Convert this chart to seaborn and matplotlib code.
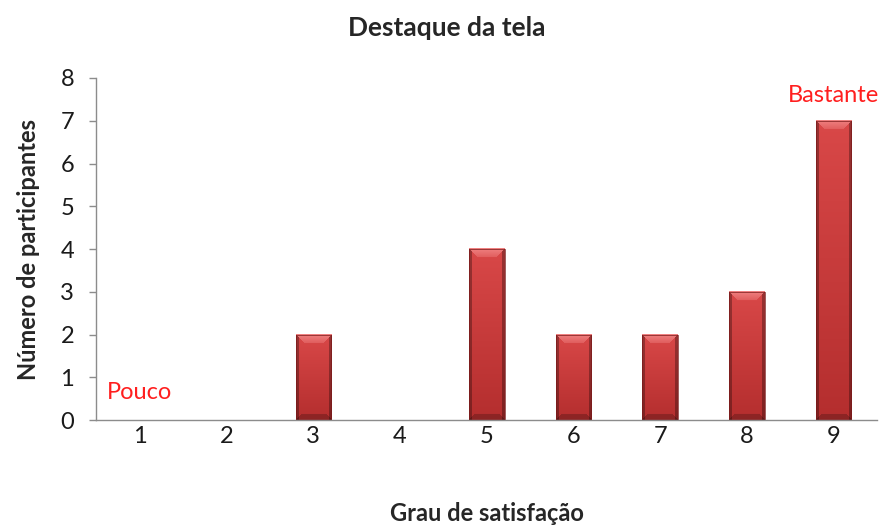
import numpy as np
import pandas as pd
import matplotlib
matplotlib.use("Agg")
import matplotlib.pyplot as plt
import seaborn as sns
from matplotlib.colors import to_rgb

# Survey responses: number of participants per satisfaction level
grau = ["1", "2", "3", "4", "5", "6", "7", "8", "9"]
participantes = [0, 0, 2, 0, 4, 2, 2, 3, 7]
titulo = "Destaque da tela"
rotulo_x = "Grau de satisfação"
rotulo_y = "Número de participantes"
anotacao_baixo = "Pouco"
anotacao_alto = "Bastante"

sns.set_theme(style="white")
plt.rcParams["font.family"] = ["Lato", "DejaVu Sans"]

df = pd.DataFrame({"grau": grau, "participantes": participantes})

fig = plt.figure(figsize=(8.85, 5.27), dpi=100)
ax = fig.add_axes([0.109, 0.203, 0.882, 0.649])

sns.barplot(data=df, x="grau", y="participantes", color="#c83232",
            width=0.41, ax=ax, saturation=1)

ax.set_xlim(-0.5, len(grau) - 0.5)
ax.set_ylim(0, 8)
ax.set_yticks(range(0, 9))


def bevel_image(wpx, hpx):
    """RGB image of a bevelled bar, row 0 at the top."""
    wpx, hpx = max(int(round(wpx)), 4), max(int(round(hpx)), 4)
    y = np.arange(hpx)[:, None] + 0.5
    x = np.arange(wpx)[None, :] + 0.5
    t = y / hpx
    top_c = np.array(to_rgb("#d94848"))
    bot_c = np.array(to_rgb("#b42e2e"))
    img = top_c * (1 - t[..., None]) + bot_c * t[..., None]
    img = np.broadcast_to(img, (hpx, wpx, 3)).copy()
    d_side = np.minimum(x, wpx - x) + 0 * y
    d_top = y + 0 * x
    d_bot = hpx - y + 0 * x
    bevel = 9.0
    side_w = 3.0
    # side rims
    side = d_side < side_w
    img[side] = img[side] * 0.70
    # top bevel: lighter trapezoid, diagonals keep the rim colour
    top = (d_top < bevel) & (d_top <= d_side)
    k = (1 - 0.6 * d_top / bevel)[top][:, None]
    light = np.array(to_rgb("#f08282"))
    img[top] = img[top] * (1 - k) + light * k
    # bottom bevel, darker
    bot = (d_bot < 6.0) & (d_bot <= d_side)
    img[bot] = img[bot] * 0.78
    return np.clip(img, 0, 1)


px_per_unit = (ax.transData.transform((0, 1))[1]
               - ax.transData.transform((0, 0))[1])
px_per_cat = (ax.transData.transform((1, 0))[0]
              - ax.transData.transform((0, 0))[0])
for p in list(ax.patches):
    h = p.get_height()
    if h <= 0:
        continue
    x0, w = p.get_x(), p.get_width()
    img = bevel_image(w * px_per_cat, h * px_per_unit)
    ax.imshow(img, extent=[x0, x0 + w, 0, h], origin="upper",
              aspect="auto", zorder=3, interpolation="bilinear")
    p.set_edgecolor("#7a1a1a")
    p.set_linewidth(0.5)
    p.set_zorder(4)
    p.set_facecolor("none")

ax.set_xlim(-0.5, len(grau) - 0.5)
ax.set_ylim(0, 8)

for s in ["top", "right"]:
    ax.spines[s].set_visible(False)
for s in ["left", "bottom"]:
    ax.spines[s].set_color("#8c8c8c")
    ax.spines[s].set_linewidth(1.0)
    ax.spines[s].set_zorder(5)

ax.tick_params(axis="y", which="major", left=True, length=5, width=1,
               color="#8c8c8c", pad=11, labelsize=17, labelcolor="#1a1a1a")
ax.tick_params(axis="x", bottom=False, pad=-2, labelsize=17, labelcolor="#1a1a1a")

ax.set_xlabel(rotulo_x, fontsize=17, fontweight="bold", labelpad=40)
ax.set_ylabel(rotulo_y, fontsize=17, fontweight="bold", labelpad=15)
fig.text(0.505, 0.947, titulo, fontsize=19, fontweight="bold",
         ha="center", va="center")

ax.text(0, 0.65, anotacao_baixo, color="#ff1f1f", fontsize=17,
        ha="center", va="center")
ax.text(8, participantes[8] + 0.6, anotacao_alto, color="#ff1f1f",
        fontsize=17, ha="center", va="center")

fig.savefig("out.png", dpi=100)
